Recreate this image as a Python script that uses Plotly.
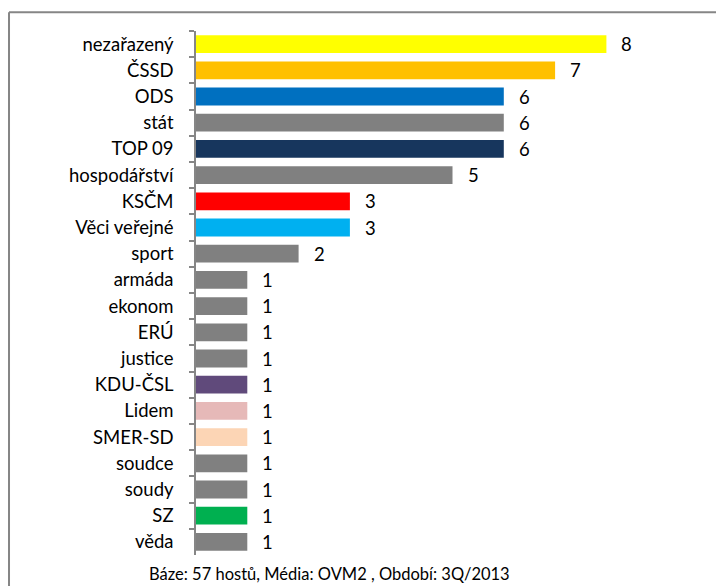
import plotly.graph_objects as go

categories = ["nezařazený", "ČSSD", "ODS", "stát", "TOP 09", "hospodářství",
              "KSČM", "Věci veřejné", "sport", "armáda", "ekonom", "ERÚ",
              "justice", "KDU-ČSL", "Lidem", "SMER-SD", "soudce", "soudy",
              "SZ", "věda"]
values = [8, 7, 6, 6, 6, 5, 3, 3, 2, 1, 1, 1, 1, 1, 1, 1, 1, 1, 1, 1]
colors = ["#FFFF00", "#FFC000", "#0070C0", "#808080", "#17365D", "#808080",
          "#FF0000", "#00B0F0", "#808080", "#808080", "#808080", "#808080",
          "#808080", "#604A7B", "#E6B9B8", "#FCD5B5", "#808080", "#808080",
          "#00B050", "#808080"]
caption = "Báze: 57 hostů, Média: OVM2 , Období: 3Q/2013"

font_name = "Lato"
fsize = 18.5

fig = go.Figure()
fig.add_trace(go.Bar(y=categories, x=values, orientation='h',
                     marker=dict(color=colors, line=dict(width=0)),
                     hoverinfo='skip'))

# value labels right of the bars
for c, v in zip(categories, values):
    fig.add_annotation(x=v, y=c, text=str(v), showarrow=False,
                       xanchor='left', xshift=13,
                       font=dict(family=font_name, size=fsize, color="#000000"))

fig.add_annotation(x=0.261, y=-0.014, xref='paper', yref='paper', text=caption,
                   showarrow=False, xanchor='center', yanchor='top',
                   font=dict(family=font_name, size=16.5, color="#000000"))

# outer frame of the chart: only left and top edges are on the page
frame = dict(color="#868686", width=2)
fig.add_shape(type='line', xref='paper', yref='paper',
              x0=-0.3645, x1=-0.3645, y0=-0.12, y1=1.036, line=frame)
fig.add_shape(type='line', xref='paper', yref='paper',
              x0=-0.3645, x1=1.2, y0=1.036, y1=1.036, line=frame)

# page body has an 8px margin; the figure runs past the window edge like the source
fig.update_layout(
    width=724, height=586,
    margin=dict(l=188, r=23, t=23, b=39),
    paper_bgcolor='white', plot_bgcolor='white',
    bargap=0.32, showlegend=False,
    font=dict(family=font_name, size=fsize, color="#000000"),
    xaxis=dict(range=[0, 10], visible=False),
    yaxis=dict(autorange='reversed', showline=True, linecolor="#868686",
               linewidth=1.5, ticks='outside', tickson='boundaries',
               ticklen=5, tickcolor="#868686", tickwidth=1.5,
               ticklabelstandoff=17, showgrid=False, automargin=False,
               tickfont=dict(family=font_name, size=fsize, color="#000000")),
)

fig.write_html("out.html", post_script="document.body.style.overflow='hidden';")
